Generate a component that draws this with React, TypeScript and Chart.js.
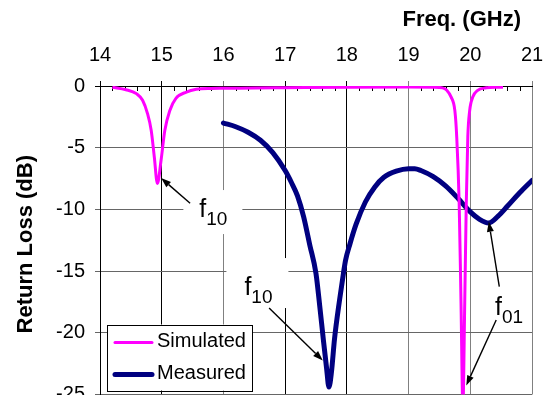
import React, { useEffect, useRef } from "react";
import { Chart, registerables } from "chart.js";

Chart.register(...registerables);

// ---------- data ----------
const xTickValues = [14, 15, 16, 17, 18, 19, 20, 21];
const yTickValues = [0, -5, -10, -15, -20, -25];
const seriesNames = ["Simulated", "Measured"];
const xTitle = "Freq. (GHz)";
const yTitle = "Return Loss (dB)";

const simFreq = [
  14.2, 14.42, 14.59, 14.69, 14.77, 14.83, 14.88, 14.93, 14.99, 15.05, 15.13,
  15.23, 15.4, 15.56, 15.8, 16.0, 16.5, 17.0, 18.0, 19.0, 19.4, 19.55, 19.62,
  19.69, 19.75, 19.78, 19.82, 19.85, 19.88, 19.91, 19.935, 19.96, 19.99, 20.04,
  20.12, 20.26, 20.4, 20.53,
];
const simRL = [
  -0.1, -0.3, -0.62, -1.16, -2.24, -3.6, -5.75, -7.9, -6.0, -3.6, -2.0, -1.0,
  -0.49, -0.27, -0.2, -0.19, -0.16, -0.14, -0.1, -0.08, -0.1, -0.15, -0.35,
  -0.9, -2.0, -4.1, -9.5, -17.6, -26, -17.6, -9.5, -4.1, -2.0, -0.9, -0.35,
  -0.15, -0.1, -0.1,
];

const measFreq = [
  16.0, 16.2, 16.4, 16.6, 16.8, 17.0, 17.1, 17.2, 17.3, 17.4, 17.5, 17.56,
  17.62, 17.67, 17.71, 17.75, 17.8, 17.88, 17.95, 17.98, 18.05, 18.15, 18.3,
  18.45, 18.6, 18.8, 19.0, 19.1, 19.2, 19.4, 19.6, 19.8, 20.0, 20.15, 20.3,
  20.45, 20.6, 20.8, 21.0,
];
const measRL = [
  -3.0, -3.3, -3.75, -4.4, -5.4, -6.85, -7.8, -8.9, -10.6, -12.9, -15.2, -17.8,
  -20.6, -22.8, -24.4, -23.2, -20.5, -17.4, -15.0, -14.1, -12.8, -11.2, -9.4,
  -8.2, -7.4, -6.9, -6.7, -6.7, -6.85, -7.35, -8.1, -9.1, -10.2, -10.8, -11.1,
  -10.55, -9.75, -8.65, -7.65,
];

// annotation labels (f with subscript), anchored at left of "f" / baseline
const labelMain = ["f", "f", "f"];
const labelSub = ["10", "10", "01"];
const labelX = [15.61, 16.34, 20.4];
const labelY = [-10.62, -16.94, -18.56];
// arrows: from (tail) -> to (tip), data coordinates
const arrowFromX = [15.46, 16.74, 20.47, 20.42];
const arrowFromY = [-9.5, -18.0, -16.26, -18.96];
const arrowToX = [14.99, 17.61, 20.3, 19.935];
const arrowToY = [-7.46, -22.25, -11.0, -24.27];

// ---------- style ----------
const FONT = '"Liberation Sans", Arial, Helvetica, sans-serif';
const SIM_COLOR = "#FF00FF";
const MEAS_COLOR = "#000080";
const darkXGrid = [14, 15, 17, 18];
// white backing boxes behind labels, px offsets relative to anchor [dx, dy, w, h]
const labelBoxes: (number[] | null)[] = [
  [-16, -27, 59, 44],
  [-18, -37, 62, 50],
  null,
];

const decorPlugin = {
  id: "decor",
  beforeDatasetsDraw(chart: any) {
    const { ctx, chartArea: a, scales } = chart;
    const x = scales.x;
    const y = scales.y;
    ctx.save();
    // minor ticks along top axis
    ctx.strokeStyle = "#000";
    ctx.lineWidth = 1;
    ctx.beginPath();
    for (let i = 1; i < 35; i++) {
      if (i % 5 === 0) continue;
      const v = 14 + i * 0.2;
      const px = Math.round(x.getPixelForValue(v)) + 0.5;
      ctx.moveTo(px, a.top);
      ctx.lineTo(px, a.top + 5);
    }
    ctx.stroke();
    // white boxes behind labels
    ctx.fillStyle = "#fff";
    for (let i = 0; i < labelMain.length; i++) {
      const b = labelBoxes[i];
      if (!b) continue;
      const px = x.getPixelForValue(labelX[i]);
      const py = y.getPixelForValue(labelY[i]);
      ctx.fillRect(px + b[0], py + b[1], b[2], b[3]);
    }
    ctx.restore();
  },
  afterDatasetsDraw(chart: any) {
    const { ctx, chartArea: a, scales } = chart;
    const x = scales.x;
    const y = scales.y;
    ctx.save();
    // arrows
    ctx.strokeStyle = "#000";
    ctx.fillStyle = "#000";
    ctx.lineWidth = 1.4;
    for (let i = 0; i < arrowFromX.length; i++) {
      const x1 = x.getPixelForValue(arrowFromX[i]);
      const y1 = y.getPixelForValue(arrowFromY[i]);
      const x2 = x.getPixelForValue(arrowToX[i]);
      const y2 = y.getPixelForValue(arrowToY[i]);
      const ang = Math.atan2(y2 - y1, x2 - x1);
      const hl = 10;
      const hw = 3.5;
      const bx = x2 - hl * Math.cos(ang);
      const by = y2 - hl * Math.sin(ang);
      ctx.beginPath();
      ctx.moveTo(x1, y1);
      ctx.lineTo(bx, by);
      ctx.stroke();
      ctx.beginPath();
      ctx.moveTo(x2, y2);
      ctx.lineTo(bx + hw * Math.sin(ang), by - hw * Math.cos(ang));
      ctx.lineTo(bx - hw * Math.sin(ang), by + hw * Math.cos(ang));
      ctx.closePath();
      ctx.fill();
    }
    // labels
    ctx.textBaseline = "alphabetic";
    ctx.textAlign = "left";
    for (let i = 0; i < labelMain.length; i++) {
      const px = x.getPixelForValue(labelX[i]);
      const py = y.getPixelForValue(labelY[i]);
      ctx.font = `25px ${FONT}`;
      ctx.fillText(labelMain[i], px, py);
      const w = ctx.measureText(labelMain[i]).width;
      ctx.font = `19px ${FONT}`;
      ctx.fillText(labelSub[i], px + w, py + 8);
    }
    // legend
    const lx = a.left + 7;
    const ly = a.bottom - 70;
    const lw = 145;
    const lh = 66;
    ctx.fillStyle = "#fff";
    ctx.fillRect(lx, ly, lw, lh);
    ctx.strokeStyle = "#000";
    ctx.lineWidth = 1;
    ctx.strokeRect(Math.round(lx) + 0.5, Math.round(ly) + 0.5, lw, lh);
    const colors = [SIM_COLOR, MEAS_COLOR];
    const widths = [3, 5];
    const rows = [18, 50];
    ctx.font = `20px ${FONT}`;
    ctx.textBaseline = "middle";
    for (let i = 0; i < seriesNames.length; i++) {
      ctx.strokeStyle = colors[i];
      ctx.lineWidth = widths[i];
      ctx.lineCap = "round";
      ctx.beginPath();
      ctx.moveTo(lx + 8, ly + rows[i]);
      ctx.lineTo(lx + 45, ly + rows[i]);
      ctx.stroke();
      ctx.fillStyle = "#000";
      ctx.fillText(seriesNames[i], lx + 50, ly + rows[i] - 1);
    }
    ctx.restore();
  },
  afterDraw(chart: any) {
    const { ctx, chartArea: a } = chart;
    ctx.save();
    ctx.fillStyle = "#000";
    ctx.font = `bold 22px ${FONT}`;
    ctx.textBaseline = "middle";
    ctx.textAlign = "right";
    ctx.fillText(xTitle, a.right - 11, 20);
    ctx.translate(26, (a.top + a.bottom) / 2 + 4);
    ctx.rotate(-Math.PI / 2);
    ctx.textAlign = "center";
    ctx.fillText(yTitle, 0, 0);
    ctx.restore();
  },
};

export default function App() {
  const ref = useRef<HTMLCanvasElement>(null);
  useEffect(() => {
    document.body.style.margin = "0";
    document.body.style.overflow = "hidden";
    document.documentElement.style.overflow = "hidden";
    const canvas = ref.current!;
    const chart = new Chart(canvas, {
      type: "line",
      data: {
        datasets: [
          {
            label: seriesNames[0],
            data: simFreq.map((f, i) => ({ x: f, y: simRL[i] })),
            borderColor: SIM_COLOR,
            borderWidth: 3,
            pointRadius: 0,
            cubicInterpolationMode: "monotone",
            fill: false,
          },
          {
            label: seriesNames[1],
            data: measFreq.map((f, i) => ({ x: f, y: measRL[i] })),
            borderColor: MEAS_COLOR,
            borderWidth: 5,
            pointRadius: 0,
            cubicInterpolationMode: "monotone",
            borderCapStyle: "round",
            fill: false,
          },
        ],
      },
      options: {
        animation: false,
        responsive: false,
        devicePixelRatio: 1,
        layout: { padding: { left: 0, right: 14, top: 0, bottom: 35.5 } },
        plugins: {
          legend: { display: false },
          tooltip: { enabled: false },
        },
        scales: {
          x: {
            type: "linear",
            position: "top",
            min: 14,
            max: 21,
            afterBuildTicks: (s: any) => {
              s.ticks = xTickValues.map((v) => ({ value: v }));
            },
            afterFit: (s: any) => {
              s.height = 86;
              s.paddingLeft = 0;
              s.paddingRight = 0;
            },
            ticks: {
              font: { family: FONT, size: 20 },
              color: "#000",
              padding: 14,
            },
            grid: {
              color: (c: any) =>
                c.tick && darkXGrid.includes(c.tick.value) ? "#000" : "#808080",
              tickLength: 5,
              lineWidth: 1,
            },
            border: { color: "#000", width: 1 },
          },
          y: {
            type: "linear",
            min: -25,
            max: 0,
            afterBuildTicks: (s: any) => {
              s.ticks = yTickValues.map((v) => ({ value: v }));
            },
            afterFit: (s: any) => {
              s.width = 100;
              s.paddingTop = 0;
              s.paddingBottom = 0;
            },
            ticks: {
              font: { family: FONT, size: 20 },
              color: "#000",
              padding: 10,
            },
            grid: {
              color: (c: any) =>
                c.tick && c.tick.value === 0 ? "#000" : "#666",
              tickLength: 5,
              lineWidth: 1,
            },
            border: { color: "#000", width: 1 },
          },
        },
      },
      plugins: [decorPlugin],
    } as any);
    return () => chart.destroy();
  }, []);
  return (
    <canvas
      ref={ref}
      width={546}
      height={430}
      style={{ display: "block", width: "546px", height: "430px" }}
    />
  );
}
